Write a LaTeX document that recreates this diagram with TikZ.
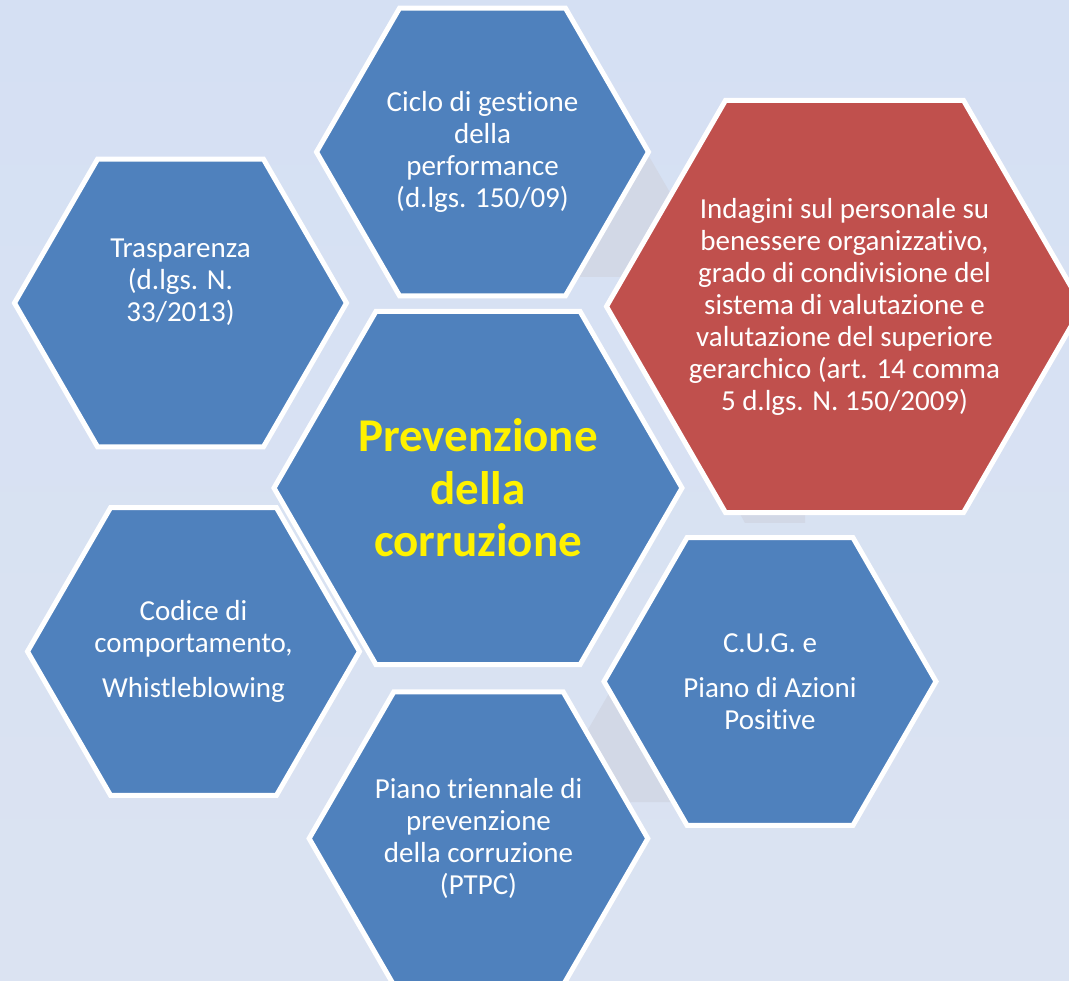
\documentclass[tikz,border=0pt]{standalone}
\usepackage{fontspec}
\setmainfont{Carlito}[Ligatures=NoCommon]
\usetikzlibrary{shapes.geometric}

\definecolor{hexblue}{HTML}{4F81BD}
\definecolor{hexred}{HTML}{C0504D}
\definecolor{bgtop}{RGB}{213,224,243}
\definecolor{bgmid}{RGB}{198,213,237}
\definecolor{bgbot}{RGB}{219,227,242}
\definecolor{ghost}{RGB}{210,216,230}

\begin{document}
\begin{tikzpicture} [x=1pt, y=-1pt,
            hexa/.style = {regular polygon,
                regular polygon sides=6,
                draw=white, line width=5pt,
                fill=hexblue, text=white,
                align=center, inner sep=0pt,
                font=\fontsize{29}{32}\selectfont},
            hexsmall/.style = {hexa, minimum size=332pt},
            hextext/.style = {text=white, align=center, inner sep=0pt,
                font=\fontsize{29}{32}\selectfont}]

        % Background
        \useasboundingbox (0,0) rectangle (1069,981);
        \shade [top color=bgtop, middle color=bgmid, bottom color=bgbot]
            (0,0) rectangle (1069,981);

        % Faint shapes behind the hexagons
        \fill [ghost] (647,153) -- (719,277) -- (560,277) -- cycle;
        \fill [ghost] (615,683) -- (700,802) -- (546,802) -- cycle;
        \fill [ghost] (700,440) -- (745,523) -- (805,523) -- (805,440) -- cycle;

        % Hexagon Ciclo
        \node (ciclo) [hexsmall] at (482.5,152)
            {Ciclo di gestione\\della\\performance\\(d.lgs. 150/09)};

        % Hexagon Trasparenza
        \node (trasp) [hexsmall] at (180.5,303)
            {Trasparenza\\(d.lgs. N.\\33/2013)\\[14pt]\mbox{}};

        % Hexagon Indagini
        \node (indag) [hexa,
            fill=hexred,
            minimum size=476pt] at (844.5,306.5) {};
        \node (indagtext) [hextext] at (indag.center)
            {Indagini sul personale su\\benessere organizzativo,\\grado di condivisione del\\sistema di valutazione e\\valutazione del superiore\\gerarchico (art. 14 comma\\5 d.lgs. N. 150/2009)};

        % Hexagon Codice
        \node (codice) [hexsmall] at (193.5,651.5)
            {Codice di\\comportamento,\\[13pt]Whistleblowing};

        % Hexagon CUG
        \node (cug) [hexsmall] at (770,681.5)
            {C.U.G. e\\[13pt]Piano di Azioni\\Positive};

        % Hexagon PTPC
        \node (ptpc) [hexsmall] at (478.5,838.5)
            {Piano triennale di\\prevenzione\\della corruzione\\(PTPC)};

        % Hexagon Prevenzione (centre)
        \node (prev) [hexa,
            minimum size=408pt,
            text=yellow,
            font=\fontsize{47}{52.5}\selectfont\bfseries] at (478,488)
            {Prevenzione\\della\\corruzione};

\end{tikzpicture}
\end{document}
